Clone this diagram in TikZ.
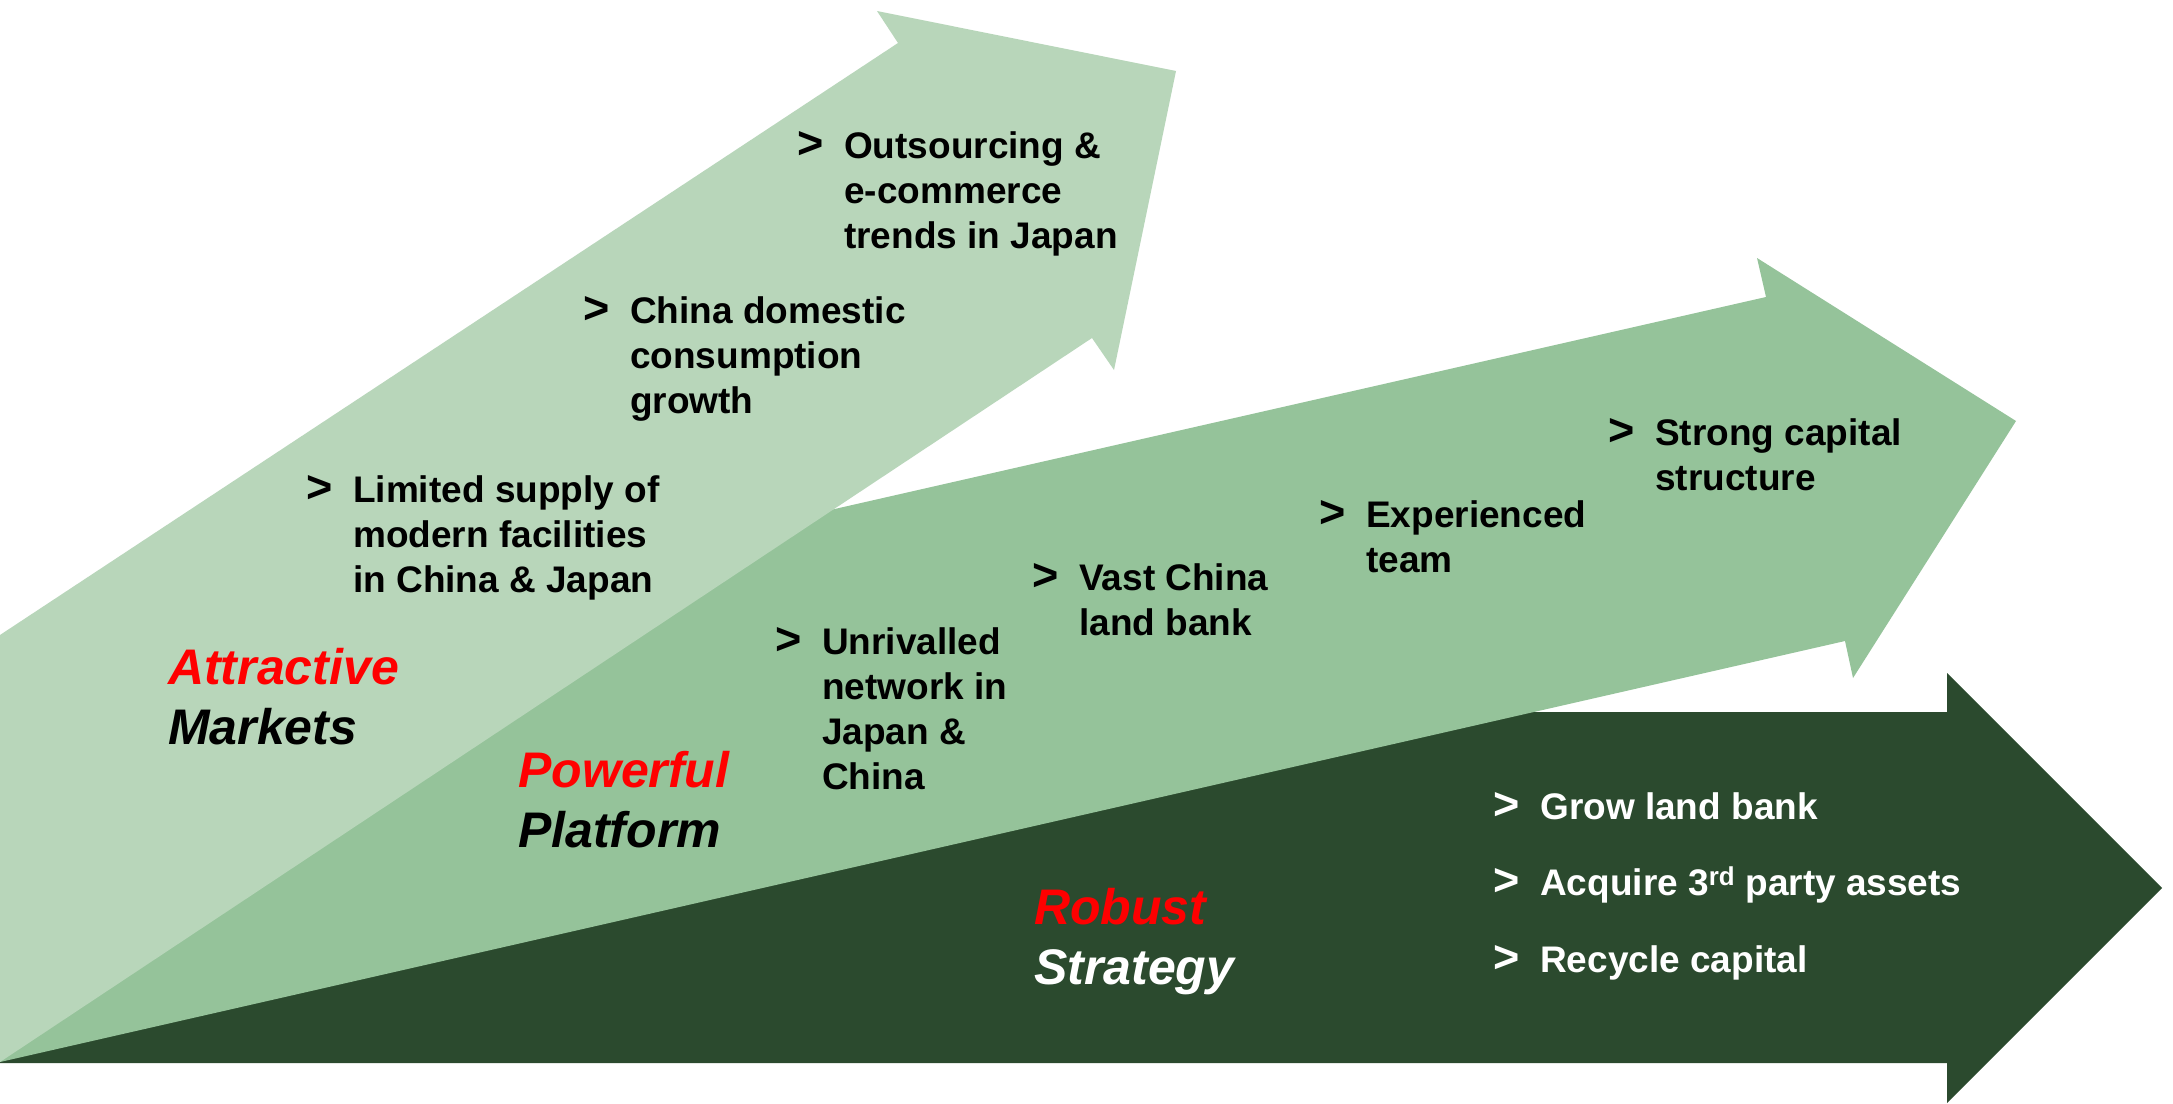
\documentclass[tikz,border=0pt]{standalone}
\usepackage{fontspec}
\setmainfont{Liberation Sans}

% left-aligned stack of lines; its baseline is the first line's baseline
\newcommand\stk[1]{\vtop{\halign{##\hfil\cr#1\crcr}}}
% bullet item: heavy chevron marker followed by a stack of lines
\newcommand\chev{{\fontsize{45}{45}\selectfont>}}
\newcommand\bul[1]{\makebox[47pt][l]{\chev}\stk{#1}}

\definecolor{arrowlight}{HTML}{B8D6BA}
\definecolor{arrowmid}{HTML}{95C39A}
\definecolor{arrowdark}{HTML}{2B4A2E}
\definecolor{hilite}{HTML}{FF0000}

\begin{document}
\begin{tikzpicture}[x=1pt,y=-1pt,
  item/.style={anchor=base west, inner sep=0pt, font=\fontsize{37}{45}\selectfont\bfseries},
  title/.style={anchor=base west, inner sep=0pt, font=\fontsize{50}{60}\selectfont\bfseries\itshape}]
\useasboundingbox (0,0) rectangle (2173,1103);
\fill[white] (0,0) rectangle (2173,1103);

\begin{scope}
\clip (0,0) rectangle (2173,1103);
% bottom arrow: strategy
\fill[arrowdark] (0,712) -- (1947,712) -- (1947,673) -- (2162,888) -- (1947,1103)
  -- (1947,1063) -- (0,1063) -- cycle;
% middle arrow: platform
\fill[arrowmid] (0,699) -- (1766,297) -- (1757,258) -- (2016,421) -- (1853,678)
  -- (1845,641) -- (0,1062) -- cycle;
% top arrow: markets
\fill[arrowlight] (0,635) -- (898,43) -- (877,11) -- (1176,71) -- (1114,370)
  -- (1092,338) -- (0,1062) -- cycle;
\end{scope}

% markets arrow
\node[item] (outsrc) at (797,158) {\bul{Outsourcing \&\cr e-commerce\cr trends in Japan}};
\node[item] (china) at (583,323) {\bul{China domestic\cr consumption\cr growth}};
\node[item] (supply) at (306,502) {\bul{Limited supply of\cr modern facilities\cr in China \& Japan}};
\node[title] (markets) at (168,684) {\stk{\textcolor{hilite}{Attractive}\cr Markets}};

% platform arrow
\node[item] (network) at (775,654) {\bul{Unrivalled\cr network in\cr Japan \&\cr China}};
\node[item] (landbank) at (1032,590) {\bul{Vast China\cr land bank}};
\node[item] (team) at (1319,527) {\bul{Experienced\cr team}};
\node[item] (capital) at (1608,445) {\bul{Strong capital\cr structure}};
\node[title] (platform) at (518,787) {\stk{\textcolor{hilite}{Powerful}\cr Platform}};

% strategy arrow
\node[item, text=white] (grow) at (1493,819) {\bul{Grow land bank}};
\node[item, text=white] (acquire) at (1493,895) {\bul{Acquire 3\textsuperscript{rd} party assets}};
\node[item, text=white] (recycle) at (1493,972) {\bul{Recycle capital}};
\node[title] (strategy) at (1034,924) {\stk{\textcolor{hilite}{Robust}\cr \textcolor{white}{Strategy}}};
\end{tikzpicture}
\end{document}
